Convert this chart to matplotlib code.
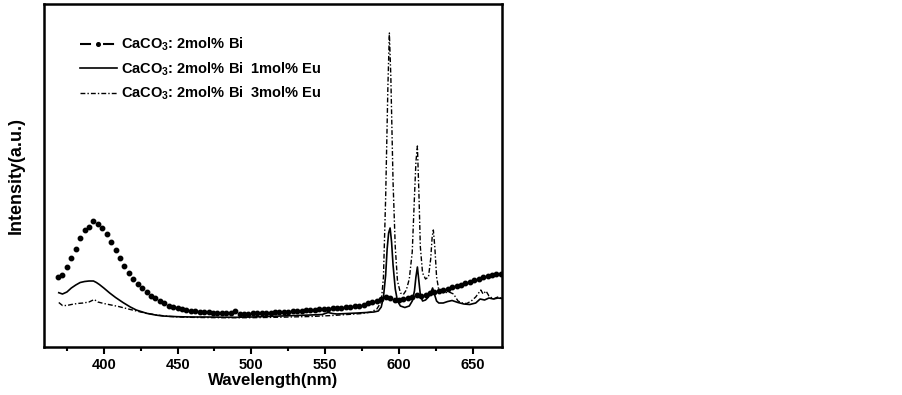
import matplotlib

matplotlib.use("Agg")
import matplotlib.pyplot as plt
from matplotlib.lines import Line2D

plt.rcParams["font.family"] = ["Liberation Sans", "DejaVu Sans"]
plt.rcParams["font.weight"] = "bold"
plt.rcParams["mathtext.fontset"] = "custom"
plt.rcParams["mathtext.rm"] = "Liberation Sans:bold"
plt.rcParams["mathtext.default"] = "rm"

# CaCO3: 2mol% Bi (dots, every 3 nm)
bi_wl = list(range(369, 670, 3))
bi_int = [
    69.7, 72, 79.7, 89, 98, 109, 117, 120.5, 126, 123,
    119, 113, 105, 97, 89, 81.5, 74, 68, 63.5, 59,
    55, 51.5, 49, 46.5, 44, 41.5, 40, 38.8, 37.8, 37,
    36.5, 36, 35.5, 35, 34.7, 34.5, 34.2, 34, 33.8, 33.7,
    36.5, 33.5, 33.5, 33.5, 33.7, 34, 34, 34.2, 34.4, 34.6,
    34.8, 35, 35.3, 35.6, 36, 36.3, 36.6, 37, 37.3, 37.6,
    38, 38.3, 38.6, 39, 39.5, 40, 40.5, 41, 41.5, 42.5,
    44, 45, 46.5, 48, 50, 49, 47.5, 47, 48, 49,
    50.5, 52, 51.5, 52.5, 54, 55, 56, 57.5, 58.5, 60,
    61, 62.5, 64, 65.5, 67, 68.5, 70, 71, 72, 73,
    73.5,
]

# CaCO3: 2mol% Bi 1mol% Eu (solid)
eu1_wl = [
    369.5, 372, 375, 378, 381, 384, 387, 390, 393, 395,
    397, 400, 404, 408, 413, 418, 422, 429, 435, 440,
    450, 460, 470, 480, 490, 500, 510, 520, 530, 540,
    548, 552, 555, 558, 565, 572, 578, 583, 586, 588,
    589.5, 591, 592, 593, 594, 595, 596, 597.5, 599, 601,
    604, 607, 609, 610.5, 611.5, 612.5, 613.5, 614.5, 616, 618,
    620, 621.5, 622.8, 624, 625.5, 627, 630, 633, 636, 640,
    644, 648, 652, 655, 658, 661, 664, 667, 670,
]
eu1_int = [
    54.3, 53, 55, 59, 62, 64.5, 65.5, 66, 66, 64.5,
    62.5, 59, 54, 49.5, 44.5, 40, 37, 33.7, 32, 31,
    30.3, 30, 30, 29.8, 29.7, 30, 30.5, 31, 31.5, 32,
    32.5, 34.5, 33.5, 33, 33.5, 34, 34.5, 35, 36, 40,
    50, 72, 98, 114, 119, 105, 82, 58, 46, 41,
    39.5, 41, 46, 56, 70, 80, 66, 52, 46, 47,
    50, 54, 59, 53, 46, 44, 44, 45.5, 46.5, 44.5,
    43, 42.5, 44, 48, 47, 49, 48, 49, 48.5,
]

# CaCO3: 2mol% Bi 3mol% Eu (dash-dot)
eu3_wl = [
    369.5, 372, 375, 378, 382, 386, 390, 393.5, 396, 400,
    405, 410, 418, 425, 430, 436, 445, 455, 465, 480,
    500, 520, 540, 555, 565, 575, 581, 585, 588, 589.5,
    591, 592.5, 593.5, 594.5, 596, 597.5, 599, 601, 603, 605,
    607, 609, 610.5, 611.5, 612.5, 613.5, 614.5, 616, 618, 620,
    621.5, 622.5, 623.3, 624.3, 625.5, 627, 630, 634, 637, 640,
    643, 646, 649, 652, 654, 655.5, 657, 659, 661, 664,
    667, 670,
]
eu3_int = [
    44.5, 41.5, 41.5, 42.5, 43.5, 44, 45, 47.5, 45, 43.5,
    42, 40.5, 37.5, 35, 33.5, 32, 30.5, 29.8, 29.5, 29.3,
    29.3, 29.8, 30.5, 31.5, 32.5, 33.5, 35, 38, 45, 70,
    150, 260, 314, 270, 165, 100, 66, 54, 52.5, 57,
    68, 95, 150, 185, 201, 155, 100, 74, 68, 70,
    88, 110, 117, 100, 70, 57, 54, 55, 53, 46,
    44, 43.5, 46, 50, 54, 57, 53, 56, 51, 48,
    50, 48.5,
]

labels = [
    "CaCO$_3$: 2mol% Bi",
    "CaCO$_3$: 2mol% Bi  1mol% Eu",
    "CaCO$_3$: 2mol% Bi  3mol% Eu",
]

dashdot = (0, (3.5, 1.5, 1, 1.5))

fig = plt.figure(figsize=(9.02, 3.95), dpi=100)
ax = fig.add_axes([0.0488, 0.1215, 0.5077, 0.8684])

ax.plot(bi_wl, bi_int, ls="none", marker="o", ms=3.2, color="k")
ax.plot(eu1_wl, eu1_int, ls="-", lw=1.2, color="k")
ax.plot(eu3_wl, eu3_int, ls=dashdot, lw=1.0, color="k")

ax.set_xlim(359.5, 669.8)
ax.set_ylim(0, 343)
ax.set_xticks([400, 450, 500, 550, 600, 650])
ax.set_xticks([375, 425, 475, 525, 575, 625], minor=True)
ax.set_yticks([])
ax.tick_params(axis="x", which="major", direction="out", length=4.8, width=1.5,
               labelsize=10.5, pad=3)
ax.tick_params(axis="x", which="minor", direction="out", length=3, width=1.5)
for lab in ax.get_xticklabels():
    lab.set_fontweight("bold")
for spine in ax.spines.values():
    spine.set_linewidth(1.8)

ax.set_xlabel("Wavelength(nm)", fontsize=12.2, fontweight="bold", labelpad=0.5)
ax.set_ylabel("Intensity(a.u.)", fontsize=13, fontweight="bold", labelpad=14)

handles = [
    Line2D([], [], color="k", lw=1.5, ls=(0, (5.3, 5.75)), marker="o", ms=2.6),
    Line2D([], [], color="k", lw=1.2, ls="-"),
    Line2D([], [], color="k", lw=1.0, ls=dashdot),
]
ax.legend(handles, labels, loc="upper left", bbox_to_anchor=(0.05, 0.945),
          frameon=False, handlelength=2.53, handletextpad=0.3,
          labelspacing=0.48, numpoints=1, prop={"weight": "bold", "size": 10.5})

fig.savefig("out.png", dpi=100)
